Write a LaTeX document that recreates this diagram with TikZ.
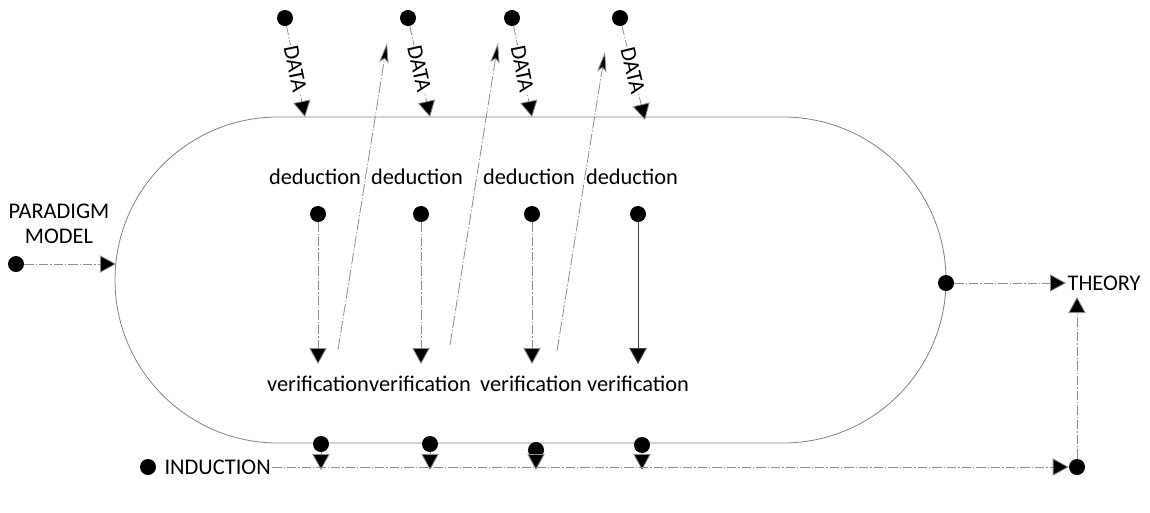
\documentclass[tikz,border=0pt]{standalone}
\usepackage{fontspec}
\setmainfont{Carlito}
\usetikzlibrary{arrows.meta}
\begin{document}
\begin{tikzpicture}[x=0.75pt,y=-0.75pt,
  dot/.style={circle,fill=black,inner sep=0pt,minimum size=12pt},
  lbl/.style={font=\fontsize{16.8}{19}\selectfont,inner sep=1pt},
  conn/.style={draw=black!45,line width=0.6pt,dash pattern=on 7pt off 1.5pt on 1pt off 1.5pt},
  solidconn/.style={draw=black!75,line width=0.7pt},
  tri/.style={-{Triangle[width=13pt,length=12pt,fill=black]}},
  thin arrow/.style={-{Stealth[length=15pt,width=7pt,inset=3pt,fill=black]}}]
\useasboundingbox (0,0) rectangle (1150,512);
% stadium
\draw[draw=black!50,line width=0.6pt] (278,117) -- (783,117)
  arc[start angle=-90,end angle=90,radius=163] -- (278,443)
  arc[start angle=90,end angle=270,radius=163] -- cycle;
% paradigm
\node[lbl,align=center] (par) at (59,224) {PARADIGM\\MODEL};
\node[dot] (pd) at (16,264) {};
\coordinate (pe) at (116,264);
\draw[conn,tri] (pd) -- (pe);
% data arrows
\foreach \i/\sx/\ex/\ey in {1/285/305/117,2/408/430/117,3/512/532/117,4/620/645/120}{
  \node[dot] (dd\i) at (\sx,18) {};
  \coordinate (de\i) at (\ex,\ey);
  \draw[conn,tri] (dd\i) -- node[sloped,fill=white,lbl,inner sep=0.5pt,pos=0.47] {DATA} (de\i);
}
% up arrows
\foreach \i/\bx/\by/\tx/\ty in {1/338/350/387/43,2/450/345/498/43,3/557/351/605/52}{
  \coordinate (ub\i) at (\bx,\by);
  \coordinate (ut\i) at (\tx,\ty);
  \draw[conn,dash pattern=on 9pt off 1.5pt on 1pt off 1.5pt,thin arrow] (ub\i) -- (ut\i);
}
% deduction / verification
\foreach \i/\x/\lx in {1/318/315,2/421/417,3/532/529,4/638/632}{
  \node[lbl] (ded\i) at (\lx,177) {deduction};
  \node[dot] (id\i) at (\x,214) {};
  \coordinate (it\i) at (\x,364);
}
\node[lbl] (ver1) at (318,384) {verification};
\node[lbl] (ver2) at (420,384) {verification};
\node[lbl] (ver3) at (531,384) {verification};
\node[lbl] (ver4) at (638,384) {verification};
\draw[conn,tri] (id1) -- (it1);
\draw[conn,tri] (id2) -- (it2);
\draw[conn,tri] (id3) -- (it3);
\draw[solidconn,tri] (id4) -- (it4);
% bottom dots and induction
\node[dot] (ind) at (148,467) {};
\node[lbl,anchor=west] (indt) at (163,467) {INDUCTION};
\foreach \i/\x/\y in {1/321/444,2/430/444,3/536/450,4/642/445}{
  \node[dot] (bd\i) at (\x,\y) {};
  \coordinate (bt\i) at (\x,470);
  \draw[conn,tri] (bd\i) -- (bt\i);
}
\node[dot] (fd) at (1077,467) {};
\draw[conn,tri] (indt.east) -- (fd.west);
% theory
\node[lbl,anchor=west] (th) at (1066,283) {THEORY};
\node[dot] (rd) at (946,283) {};
\draw[conn,tri] (rd) -- (th.west);
\coordinate (tt) at (1077,297);
\draw[conn,tri] (fd) -- (tt);
\end{tikzpicture}
\end{document}
